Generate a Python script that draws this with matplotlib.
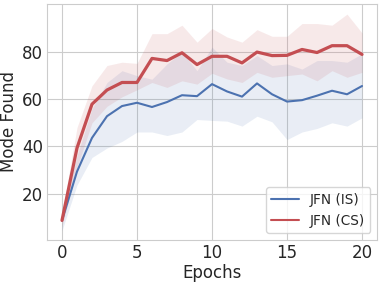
import matplotlib
matplotlib.use("Agg")
import matplotlib.pyplot as plt
import numpy as np
import seaborn as sns

sns.set_style("whitegrid")

epochs = np.arange(21)

# JFN (IS)
is_mean = [8.6, 29.3, 43.6, 52.8, 57.1, 58.5, 56.7, 58.8, 61.7, 61.3, 66.4,
           63.3, 61.1, 66.7, 62.1, 59.0, 59.6, 61.5, 63.6, 62.1, 65.6]
is_low = [4.3, 23.6, 35.3, 39.3, 42.1, 46.1, 46.1, 44.6, 46.1, 51.4, 51.0,
          50.7, 48.6, 52.8, 50.4, 42.9, 46.1, 47.6, 50.0, 48.6, 52.1]
is_high = [12.5, 36.0, 56.0, 67.1, 72.1, 70.0, 68.5, 75.0, 80.0, 72.1, 82.1,
           75.7, 74.3, 78.5, 74.3, 75.0, 72.8, 76.4, 76.4, 75.7, 79.3]

# JFN (CS)
cs_mean = [8.6, 39.3, 57.9, 63.9, 67.1, 67.1, 77.3, 76.4, 79.7, 74.7, 78.2,
           78.2, 75.4, 80.0, 78.5, 78.6, 81.1, 79.8, 82.7, 82.7, 79.0]
cs_low = [6.0, 31.0, 50.0, 57.0, 61.0, 64.0, 67.1, 65.0, 67.8, 66.4, 71.0,
          68.6, 67.1, 71.4, 69.3, 70.0, 70.7, 67.8, 72.1, 69.3, 71.4]
cs_high = [11.5, 48.0, 65.7, 74.3, 75.7, 75.2, 87.8, 87.8, 91.4, 84.2, 90.0,
           86.4, 84.2, 89.5, 86.7, 86.7, 92.1, 92.1, 91.4, 96.1, 88.1]

blue = "#4C72B0"
red = "#C44E52"

fig = plt.figure(figsize=(3.82, 2.83), dpi=100)
ax = fig.add_axes([0.123, 0.152, 0.864, 0.834])

ax.fill_between(epochs, is_low, is_high, color=blue, alpha=0.12, linewidth=0)
ax.fill_between(epochs, cs_low, cs_high, color=red, alpha=0.12, linewidth=0)
ax.plot(epochs, is_mean, color=blue, lw=1.5, label="JFN (IS)")
ax.plot(epochs, cs_mean, color=red, lw=2.3, label="JFN (CS)")

ax.set_xlim(-1, 21)
ax.set_ylim(0.3, 100.4)
ax.set_xticks([0, 5, 10, 15, 20])
ax.set_yticks([20, 40, 60, 80])
ax.tick_params(labelsize=12, pad=3, length=0)
ax.set_xlabel("Epochs", fontsize=12, labelpad=1)
ax.set_ylabel("Mode Found", fontsize=12, labelpad=3)

leg = ax.legend(loc="lower right", fontsize=9.8, borderaxespad=0.5)
for h in leg.get_lines():
    h.set_linewidth(1.5)

fig.savefig("out.png", dpi=100)
